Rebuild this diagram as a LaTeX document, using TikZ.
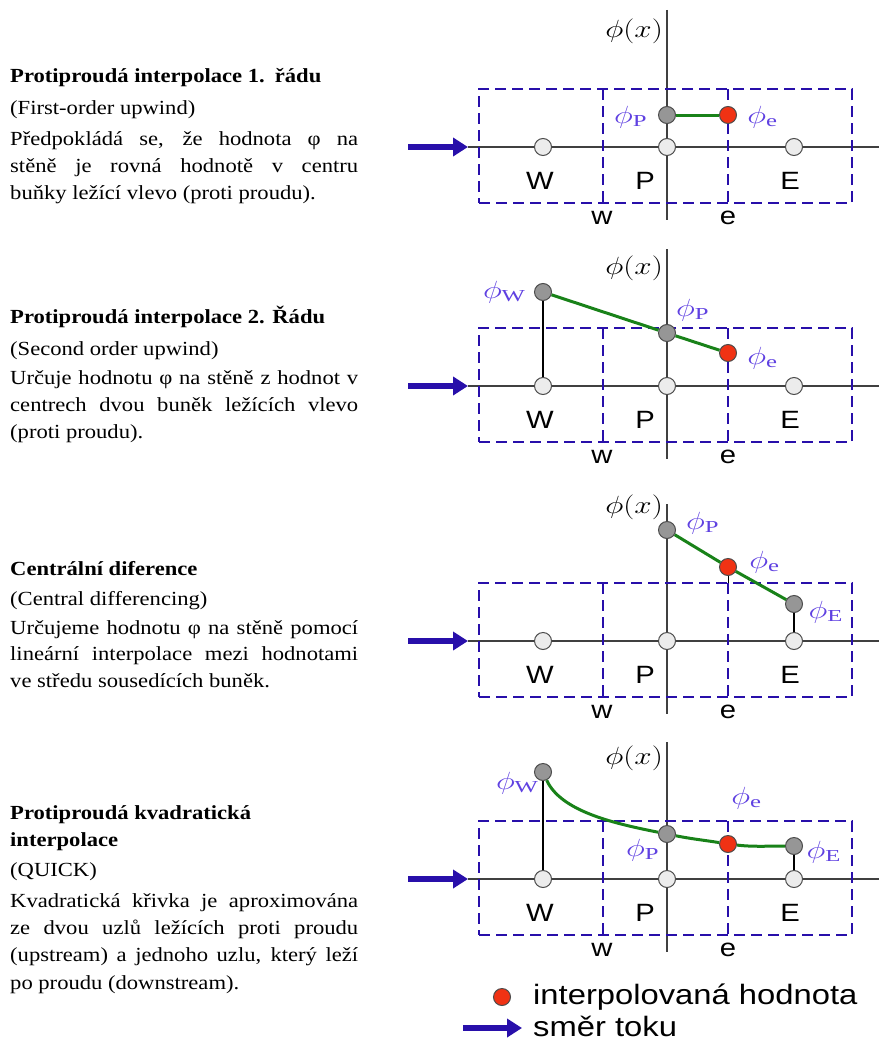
\documentclass[tikz,border=0pt]{standalone}
\usepackage{fontspec}
\usepackage{graphicx}
\setmainfont{Liberation Serif}[FakeStretch=1.13]
\newfontfamily\arialf{Liberation Sans}[FakeStretch=1.17]
\usetikzlibrary{arrows.meta}
\definecolor{dblue}{RGB}{40,15,170}
\definecolor{lblue}{RGB}{95,65,225}
\definecolor{dgreen}{RGB}{25,130,25}
\definecolor{nred}{RGB}{240,50,20}
\definecolor{ngray}{RGB}{150,150,150}
\definecolor{nlight}{RGB}{236,236,236}
\newcommand{\phs}[1]{\scalebox{1.3}[1]{$\phi_{\mathrm{#1}}$}}
\newcommand{\phx}{\scalebox{1.25}[1]{$\phi(x)$}}
\tikzset{
  axisline/.style={draw=black!75, line width=1.2pt},
  cellbox/.style={draw=dblue, line width=2.6pt, dash pattern=on 11pt off 6pt},
  flow/.style={draw=dblue, line width=6pt, -{Triangle[length=15pt,width=18pt]}},
  gridpt/.style={circle, draw=black!70, fill=nlight, minimum size=17pt, inner sep=0pt, line width=1pt},
  valpt/.style={gridpt, fill=ngray},
  interp/.style={gridpt, fill=nred},
  valline/.style={draw=dgreen, line width=3pt},
  stem/.style={draw=black, line width=1.2pt},
  philab/.style={text=lblue, inner sep=0pt, font=\fontsize{24}{24}\selectfont},
  phixlab/.style={inner sep=0pt, anchor=east, font=\fontsize{26}{26}\selectfont},
  cellab/.style={inner sep=0pt, font=\arialf\fontsize{25}{25}\selectfont},
  legtxt/.style={inner sep=0pt, anchor=west, font=\arialf\fontsize{28}{28}\selectfont},
  txt/.style={anchor=west, inner sep=0pt, text height=13pt, text depth=4pt, font=\fontsize{20}{24}\selectfont},
  ttl/.style={txt, font=\fontsize{20}{24}\selectfont\bfseries}
}
\newcommand{\basepanel}[2]{%
  \coordinate (#1ax0) at (468,#2);
  \coordinate (#1ax1) at (879,#2);
  \coordinate (#1ay0) at (667,#2-137);
  \coordinate (#1ay1) at (667,#2+73);
  \coordinate (#1in) at (408,#2);
  \coordinate (#1wt) at (603,#2-58);
  \coordinate (#1wb) at (603,#2+56);
  \coordinate (#1et) at (728,#2-58);
  \coordinate (#1eb) at (728,#2+56);
  \draw[axisline] (#1ax0) -- (#1ax1);
  \draw[axisline] (#1ay0) -- (#1ay1);
  \draw[flow] (#1in) -- (#1ax0);
  \node[cellbox, minimum width=373pt, minimum height=114pt, inner sep=0pt] (#1box) at (665.5,#2-1) {};
  \draw[cellbox] (#1wt) -- (#1wb);
  \draw[cellbox] (#1et) -- (#1eb);
  \node[gridpt] (#1W) at (543,#2) {};
  \node[gridpt] (#1P) at (667,#2) {};
  \node[gridpt] (#1E) at (794,#2) {};
  \node[cellab] (#1Wl) at (540,#2+34) {W};
  \node[cellab] (#1Pl) at (645,#2+34) {P};
  \node[cellab] (#1El) at (790,#2+34) {E};
  \node[cellab] (#1wl) at (602,#2+71) {w};
  \node[cellab] (#1el) at (728,#2+71) {e};
}
\begin{document}
\begin{tikzpicture}[x=1pt,y=-1pt]
\useasboundingbox (0,0) rectangle (879,1041);

% ---------- Panel 1 ----------
\node[ttl] (t1a) at (10,78) {Protiproudá interpolace 1.\enspace řádu};
\node[txt] (t1b) at (10,110) {(First-order upwind)};
\node[txt] (t1c) at (10,141) {\makebox[348pt][s]{Předpokládá se, že hodnota φ na}};
\node[txt] (t1d) at (10,168) {\makebox[348pt][s]{stěně je rovná hodnotě v centru}};
\node[txt] (t1e) at (10,195) {buňky ležící vlevo (proti proudu).};

\basepanel{a}{147}
\node[phixlab] (aphx) at (663,31) {\phx};
\node[valpt] (avP) at (667,115) {};
\node[interp] (aie) at (728,115) {};
\draw[valline] (avP) -- (aie);
\node[philab] (alP) at (630,117) {\phs{P}};
\node[philab] (ale) at (762,117) {\phs{e}};

% ---------- Panel 2 ----------
\node[ttl] (t2a) at (10,319) {Protiproudá interpolace 2. Řádu};
\node[txt] (t2b) at (10,351) {(Second order upwind)};
\node[txt] (t2c) at (10,380) {\makebox[348pt][s]{Určuje hodnotu φ na stěně z hodnot v}};
\node[txt] (t2d) at (10,407) {\makebox[348pt][s]{centrech dvou buněk ležících vlevo}};
\node[txt] (t2e) at (10,434) {(proti proudu).};

\basepanel{b}{386}
\node[phixlab] (bphx) at (663,268) {\phx};
\node[valpt] (bvW) at (543,292) {};
\node[valpt] (bvP) at (667,333) {};
\node[interp] (bie) at (728,353) {};
\draw[stem] (bvW) -- (bW);
\draw[valline] (bvW) -- (bvP);
\draw[valline] (bvP) -- (bie);
\node[philab] (blW) at (503,292) {\phs{W}};
\node[philab] (blP) at (692,310) {\phs{P}};
\node[philab] (ble) at (762,358) {\phs{e}};

% ---------- Panel 3 ----------
\node[ttl] (t3a) at (10,571) {Centrální diference};
\node[txt] (t3b) at (10,601) {(Central differencing)};
\node[txt] (t3c) at (10,630) {\makebox[348pt][s]{Určujeme hodnotu φ na stěně pomocí}};
\node[txt] (t3d) at (10,656) {\makebox[348pt][s]{lineární interpolace mezi hodnotami}};
\node[txt] (t3e) at (10,683) {ve středu sousedících buněk.};

\basepanel{c}{641}
\node[phixlab] (cphx) at (663,507) {\phx};
\node[valpt] (cvP) at (667,530) {};
\node[interp] (cie) at (728,567) {};
\node[valpt] (cvE) at (794,604) {};
\draw[stem, line width=0.8pt] (cie) -- (cet);
\draw[stem] (cvE) -- (cE);
\draw[valline] (cvP) -- (cie);
\draw[valline] (cie) -- (cvE);
\node[philab] (clP) at (702,523) {\phs{P}};
\node[philab] (cle) at (764,562) {\phs{e}};
\node[philab] (clE) at (825,612) {\phs{E}};

% ---------- Panel 4 ----------
\node[ttl] (t4a) at (10,815) {Protiproudá kvadratická};
\node[ttl] (t4b) at (10,842) {interpolace};
\node[txt] (t4c) at (10,872) {(QUICK)};
\node[txt] (t4d) at (10,903) {\makebox[348pt][s]{Kvadratická křivka je aproximována}};
\node[txt] (t4e) at (10,930) {\makebox[348pt][s]{ze dvou uzlů ležících proti proudu}};
\node[txt] (t4f) at (10,957) {\makebox[348pt][s]{(upstream) a jednoho uzlu, který leží}};
\node[txt] (t4g) at (10,985) {po proudu (downstream).};

\basepanel{d}{879}
\node[phixlab] (dphx) at (663,758) {\phx};
\node[valpt] (dvW) at (543,772) {};
\node[valpt] (dvP) at (667,834) {};
\node[interp] (die) at (728,844) {};
\node[valpt] (dvE) at (794,846) {};
\draw[stem] (dvW) -- (dW);
\draw[stem] (dvE) -- (dE);
\draw[valline] (dvW) .. controls +(18,40) and +(-50,-10) .. (dvP);
\draw[valline] (dvP) .. controls +(25,5) and +(-25,-4) .. (die);
\draw[valline] (die) .. controls +(25,3) and +(-25,0) .. (dvE);
\node[philab] (dlW) at (516,783) {\phs{W}};
\node[philab] (dle) at (746,798) {\phs{e}};
\node[philab] (dlP) at (642,850) {\phs{P}};
\node[philab] (dlE) at (823,852) {\phs{E}};

% ---------- Legend ----------
\node[interp] (legdot) at (502,997) {};
\node[legtxt] (legt1) at (533,997) {interpolovaná hodnota};
\coordinate (lega0) at (463,1028);
\coordinate (lega1) at (522,1028);
\draw[flow] (lega0) -- (lega1);
\node[legtxt] (legt2) at (533,1026) {směr toku};
\end{tikzpicture}
\end{document}
